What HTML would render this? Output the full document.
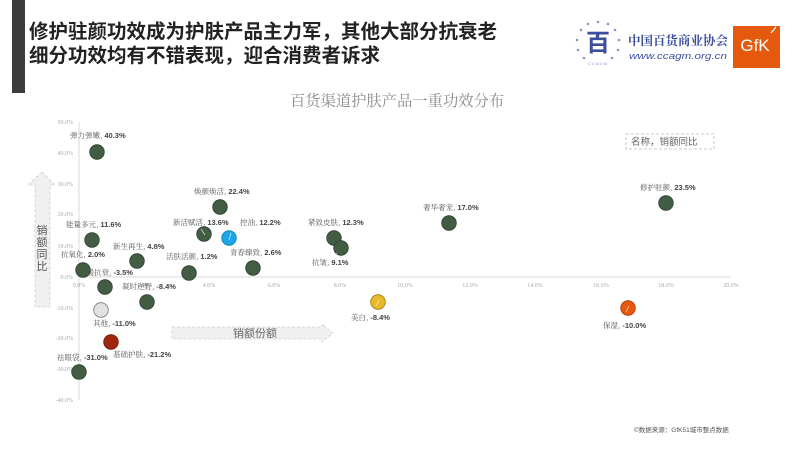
<!DOCTYPE html>
<html><head><meta charset="utf-8">
<style>
html,body{margin:0;padding:0;background:#fff;}
body{width:800px;height:450px;overflow:hidden;position:relative;}
svg{position:absolute;left:0;top:0;}
</style></head>
<body>
<svg width="800" height="450" viewBox="0 0 800 450" xmlns="http://www.w3.org/2000/svg">
  <!-- title bar -->
  <rect x="12" y="0" width="13" height="93" fill="#3c3c3c"/>
  <text x="29" y="38" font-family="Liberation Sans, Noto Sans CJK SC, sans-serif" font-size="19.5" font-weight="bold" fill="#222">修护驻颜功效成为护肤产品主力军，其他大部分抗衰老</text>
  <text x="29" y="62" font-family="Liberation Sans, Noto Sans CJK SC, sans-serif" font-size="19.5" font-weight="bold" fill="#222">细分功效均有不错表现，迎合消费者诉求</text>

  <!-- logo -->
  <g fill="#8a95c4">
    <circle cx="598" cy="22" r="1.3"/><circle cx="608" cy="24" r="1.3"/><circle cx="588" cy="24" r="1.3"/>
    <circle cx="615" cy="30" r="1.3"/><circle cx="581" cy="30" r="1.3"/>
    <circle cx="619" cy="40" r="1.3"/><circle cx="577" cy="40" r="1.3"/>
    <circle cx="618" cy="50" r="1.3"/><circle cx="578" cy="50" r="1.3"/>
    <circle cx="612" cy="58" r="1.3"/><circle cx="584" cy="58" r="1.3"/>
  </g>
  <text x="598" y="51" text-anchor="middle" font-family="Noto Sans CJK SC, sans-serif" font-size="24" font-weight="bold" fill="#3b4f9e">百</text>
  <text x="598" y="65" text-anchor="middle" font-family="Liberation Sans, sans-serif" font-size="4" fill="#8a95c4" letter-spacing="1">CCAGM</text>
  <text x="628" y="45" font-family="Noto Serif CJK SC, serif" font-size="12.5" font-weight="bold" fill="#3b4f9e">中国百货商业协会</text>
  <text x="629" y="59" font-family="Liberation Sans, sans-serif" font-size="9.5" font-style="italic" fill="#3b4f9e" textLength="98" lengthAdjust="spacingAndGlyphs">www.ccagm.org.cn</text>
  <rect x="733" y="26" width="47" height="42" fill="#e5590f"/>
  <text x="755" y="51" text-anchor="middle" font-family="Liberation Sans, sans-serif" font-size="17" fill="#fff">GfK</text>
  <line x1="771" y1="33" x2="776" y2="27" stroke="#fff" stroke-width="1.2"/>

  <!-- chart title -->
  <text x="290" y="106" font-family="Noto Serif CJK SC, serif" font-size="15.3" fill="#8a8a8a">百货渠道护肤产品一重功效分布</text>

  <!-- arrows -->
  <path d="M42 172 L55 185 L50 185 L50 307 L35 307 L35 185 L28 185 Z" fill="#f0f0f0" stroke="#cfcfcf" stroke-width="0.8" stroke-dasharray="3,2"/>
  <g font-family="Noto Sans CJK SC, sans-serif" font-size="11" fill="#555" text-anchor="middle">
    <text x="42" y="234">销</text>
    <text x="42" y="246">额</text>
    <text x="42" y="258">同</text>
    <text x="42" y="270">比</text>
  </g>
  <path d="M172 327 L322 327 L322 324 L333 333 L322 342 L322 339 L172 339 Z" fill="#f0f0f0" stroke="#cfcfcf" stroke-width="0.8" stroke-dasharray="3,2"/>
  <text x="233" y="337" font-family="Noto Sans CJK SC, sans-serif" font-size="11" fill="#666">销额份额</text>

  <!-- axes -->
  <line x1="79" y1="122" x2="79" y2="400" stroke="#d9d9d9" stroke-width="1"/>
  <line x1="79" y1="277" x2="731" y2="277" stroke="#d9d9d9" stroke-width="1"/>
  <g font-family="Liberation Serif, serif" font-size="6" fill="#a8a8a8" text-anchor="end">
    <text x="73" y="124">50.0%</text>
    <text x="73" y="155">40.0%</text>
    <text x="73" y="186">30.0%</text>
    <text x="73" y="216">20.0%</text>
    <text x="73" y="248">10.0%</text>
    <text x="73" y="279">0.0%</text>
    <text x="73" y="310">-10.0%</text>
    <text x="73" y="340">-20.0%</text>
    <text x="73" y="371">-30.0%</text>
    <text x="73" y="402">-40.0%</text>
  </g>
  <g font-family="Liberation Serif, serif" font-size="6" fill="#a8a8a8" text-anchor="middle">
    <text x="79" y="287">0.0%</text>
    <text x="144" y="287">2.0%</text>
    <text x="209" y="287">4.0%</text>
    <text x="274" y="287">6.0%</text>
    <text x="340" y="287">8.0%</text>
    <text x="405" y="287">10.0%</text>
    <text x="470" y="287">12.0%</text>
    <text x="535" y="287">14.0%</text>
    <text x="601" y="287">16.0%</text>
    <text x="666" y="287">18.0%</text>
    <text x="731" y="287">20.0%</text>
  </g>

  <!-- legend box -->
  <rect x="626" y="134" width="88" height="15" fill="none" stroke="#bbb" stroke-width="0.8" stroke-dasharray="3,2"/>
  <text x="631" y="145" font-family="Noto Sans CJK SC, sans-serif" font-size="9.5" fill="#666">名称，销额同比</text>

  <!-- labels -->
  <g font-family="Noto Serif CJK SC, serif" font-size="7.5" fill="#555">
    <text x="70" y="138">弹力弹嫩, <tspan font-family="Liberation Sans, sans-serif" font-weight="bold" fill="#444">40.3%</tspan></text>
    <text x="194" y="194">焕颜焕活, <tspan font-family="Liberation Sans, sans-serif" font-weight="bold" fill="#444">22.4%</tspan></text>
    <text x="66" y="227">能量多元, <tspan font-family="Liberation Sans, sans-serif" font-weight="bold" fill="#444">11.6%</tspan></text>
    <text x="173" y="225">新活赋活, <tspan font-family="Liberation Sans, sans-serif" font-weight="bold" fill="#444">13.6%</tspan></text>
    <text x="240" y="225">控油, <tspan font-family="Liberation Sans, sans-serif" font-weight="bold" fill="#444">12.2%</tspan></text>
    <text x="113" y="249">新生再生, <tspan font-family="Liberation Sans, sans-serif" font-weight="bold" fill="#444">4.8%</tspan></text>
    <text x="61" y="257">抗氧化, <tspan font-family="Liberation Sans, sans-serif" font-weight="bold" fill="#444">2.0%</tspan></text>
    <text x="166" y="259">活肤活颜, <tspan font-family="Liberation Sans, sans-serif" font-weight="bold" fill="#444">1.2%</tspan></text>
    <text x="230" y="255">青春臻致, <tspan font-family="Liberation Sans, sans-serif" font-weight="bold" fill="#444">2.6%</tspan></text>
    <text x="79" y="275">舒缓抗衰, <tspan font-family="Liberation Sans, sans-serif" font-weight="bold" fill="#444">-3.5%</tspan></text>
    <text x="122" y="289">凝时逆野, <tspan font-family="Liberation Sans, sans-serif" font-weight="bold" fill="#444">-8.4%</tspan></text>
    <text x="93" y="326">其他, <tspan font-family="Liberation Sans, sans-serif" font-weight="bold" fill="#444">-11.0%</tspan></text>
    <text x="113" y="357">基础护肤, <tspan font-family="Liberation Sans, sans-serif" font-weight="bold" fill="#444">-21.2%</tspan></text>
    <text x="57" y="360">祛眼袋, <tspan font-family="Liberation Sans, sans-serif" font-weight="bold" fill="#444">-31.0%</tspan></text>
    <text x="308" y="225">紧致皮肤, <tspan font-family="Liberation Sans, sans-serif" font-weight="bold" fill="#444">12.3%</tspan></text>
    <text x="312" y="265">抗皱, <tspan font-family="Liberation Sans, sans-serif" font-weight="bold" fill="#444">9.1%</tspan></text>
    <text x="423" y="210">奢华奢宠, <tspan font-family="Liberation Sans, sans-serif" font-weight="bold" fill="#444">17.0%</tspan></text>
    <text x="351" y="320">美白, <tspan font-family="Liberation Sans, sans-serif" font-weight="bold" fill="#444">-8.4%</tspan></text>
    <text x="640" y="190">修护驻颜, <tspan font-family="Liberation Sans, sans-serif" font-weight="bold" fill="#444">23.5%</tspan></text>
    <text x="603" y="328">保湿, <tspan font-family="Liberation Sans, sans-serif" font-weight="bold" fill="#444">-10.0%</tspan></text>
  </g>

  <!-- points -->
  <g stroke="#2e402f" stroke-width="0.8" fill="#435c44">
    <circle cx="97" cy="152" r="7.3"/>
    <circle cx="220" cy="207" r="7.3"/>
    <circle cx="92" cy="240" r="7.3"/>
    <circle cx="204" cy="234" r="7.3"/>
    <circle cx="137" cy="261" r="7.3"/>
    <circle cx="189" cy="273" r="7.3"/>
    <circle cx="253" cy="268" r="7.3"/>
    <circle cx="83" cy="270" r="7.3"/>
    <circle cx="105" cy="287" r="7.3"/>
    <circle cx="147" cy="302" r="7.3"/>
    <circle cx="79" cy="372" r="7.3"/>
    <circle cx="334" cy="238" r="7.3"/>
    <circle cx="341" cy="248" r="7.3"/>
    <circle cx="449" cy="223" r="7.3"/>
    <circle cx="666" cy="203" r="7.3"/>
  </g>
  <circle cx="229" cy="238" r="7.3" fill="#1ba6ea" stroke="#1780b8" stroke-width="0.8"/>
  <circle cx="101" cy="310" r="7.3" fill="#e2e2e2" stroke="#777" stroke-width="0.8"/>
  <circle cx="111" cy="342" r="7.3" fill="#a1260f" stroke="#6e1a0a" stroke-width="0.8"/>
  <circle cx="378" cy="302" r="7.3" fill="#e9b928" stroke="#9a7a1a" stroke-width="0.8"/>
  <circle cx="628" cy="308" r="7.3" fill="#e8580f" stroke="#a43e0a" stroke-width="0.8"/>

  <!-- leader lines -->
  <g stroke="#ffffff" stroke-width="0.7" opacity="0.8">
    <line x1="201" y1="229" x2="205" y2="235"/>
    <line x1="231" y1="233" x2="229" y2="240"/>
    <line x1="337" y1="253" x2="333" y2="257"/>
    <line x1="379" y1="300" x2="376" y2="306"/>
    <line x1="629" y1="306" x2="626" y2="312"/>
  </g>

  <!-- source -->
  <text x="634" y="432" font-family="Liberation Sans, Noto Sans CJK SC, sans-serif" font-size="6.5" fill="#555">©数据来源：GfK51城市整点数据</text>
</svg>
</body></html>
